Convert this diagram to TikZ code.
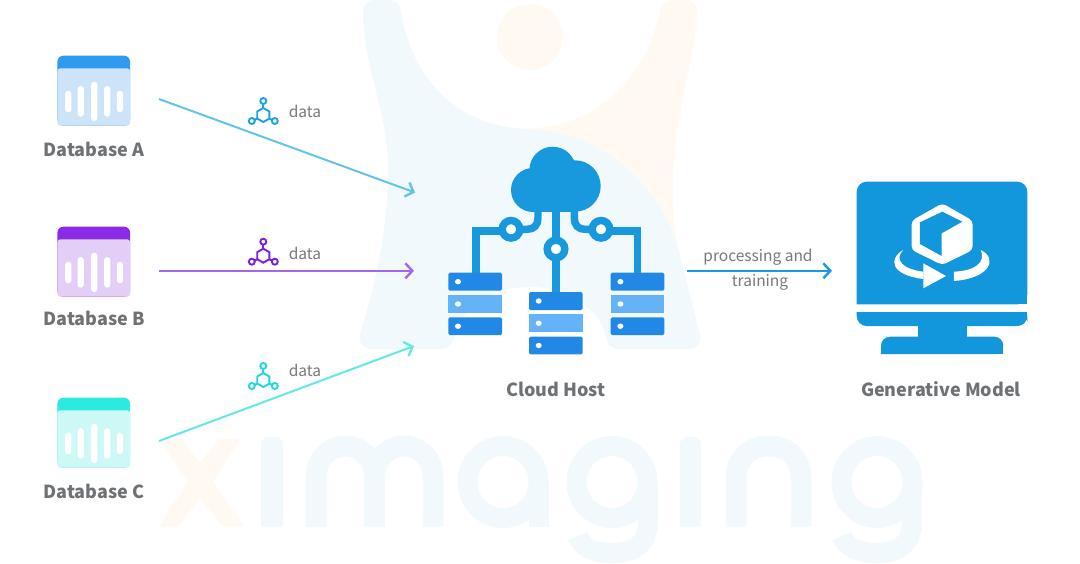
\documentclass[tikz,border=0pt]{standalone}
\usepackage{fontspec}
\setmainfont{Noto Sans CJK SC}
\usetikzlibrary{arrows.meta}
\definecolor{wmblue}{HTML}{F2F9FD}
\definecolor{wmorange}{HTML}{FFF9F2}
\definecolor{labelgray}{HTML}{6F7275}
\definecolor{datagray}{HTML}{77797B}
\definecolor{cloudblue}{HTML}{1899DE}
\definecolor{srvdark}{HTML}{2288E6}
\definecolor{srvlight}{HTML}{64B2F7}
\definecolor{monblue}{HTML}{1296DC}
\definecolor{headA}{HTML}{2F9AEE}
\definecolor{bodyA}{HTML}{CDE4F8}
\definecolor{headB}{HTML}{8A2BE8}
\definecolor{bodyB}{HTML}{E3CEF7}
\definecolor{headC}{HTML}{2CEADF}
\definecolor{bodyC}{HTML}{CDF8F5}
\definecolor{linkA}{HTML}{63C4EA}
\definecolor{linkB}{HTML}{A566E8}
\definecolor{linkC}{HTML}{63E8E6}
\definecolor{glyphA}{HTML}{1AA3E0}
\definecolor{glyphB}{HTML}{7B1FE0}
\definecolor{glyphC}{HTML}{1FD6DC}
\definecolor{linkD}{HTML}{1A9AE0}
\tikzset{
  title/.style={font=\fontsize{18}{20}\selectfont\bfseries, text=labelgray, inner sep=0pt},
  note/.style={font=\fontsize{15.5}{18}\selectfont, text=datagray, inner sep=0pt},
  link/.style={line width=2pt, -{Straight Barb[length=7pt,width=15pt,line width=2.4pt]}},
  wire/.style={draw=cloudblue, line width=7.4pt},
  hub/.style={draw=cloudblue, fill=white, line width=7.4pt},
  wmstroke/.style={draw=wmblue, line width=21pt},
}
% Database icon: header band, pale body and five white level bars
\newcommand{\dbicon}[4]{%
  \begin{scope}[shift={(#1,#2)}]
    \fill[#3, rounded corners=6pt] (0,0) rectangle (72.7,70);
    \fill[#4, rounded corners=3pt] (0,12.6) -- (72.7,12.6) -- (72.7,70) -- (0,70) -- cycle;
    \fill[white, rounded corners=3pt] (7.8,35) rectangle (14,56.6);
    \fill[white, rounded corners=3pt] (20.2,30.3) rectangle (26.4,61);
    \fill[white, rounded corners=3pt] (33.7,26) rectangle (39.9,65.3);
    \fill[white, rounded corners=3pt] (46.7,30.3) rectangle (52.9,61);
    \fill[white, rounded corners=3pt] (59.4,35) rectangle (65.6,56.6);
  \end{scope}}
% Molecule-like data glyph: hexagon with three ringed spokes
\newcommand{\dataglyph}[3]{%
  \begin{scope}[shift={(#1,#2)}, line width=1.9pt]
    \draw[#3] (0,-7) -- (6.1,-3.5) -- (6.1,3.5) -- (0,7) -- (-6.1,3.5) -- (-6.1,-3.5) -- cycle;
    \draw[#3] (0,-7) -- (0,-10.5);
    \draw[#3] (6.1,3.5) -- (8.7,5);
    \draw[#3] (-6.1,3.5) -- (-8.7,5);
    \draw[#3] (0,-14) circle[radius=3];
    \draw[#3] (11.5,6) circle[radius=3];
    \draw[#3] (-11.5,6) circle[radius=3];
  \end{scope}}
% Three-slab server rack
\newcommand{\rack}[2]{%
  \begin{scope}[shift={(#1,#2)}]
    \fill[srvdark, rounded corners=1.5pt] (0,0) rectangle (53.7,18);
    \fill[srvlight] (0,22.3) rectangle (53.7,40.3);
    \fill[srvdark, rounded corners=1.5pt] (0,44.6) rectangle (53.7,62.3);
    \foreach \yy in {9,31.3,53.5} \fill[white] (9.7,\yy) ellipse[x radius=3, y radius=2.7];
  \end{scope}}
\begin{document}
\begin{tikzpicture}[x=1pt,y=-1pt]
\useasboundingbox (0,0) rectangle (1080,563);
\fill[white] (0,0) rectangle (1080,563);

% Faint figure behind the diagram
\fill[wmorange] (530,37) circle[radius=33];
\fill[wmorange] (530,128) .. controls (600,128) and (648,70) .. (660,12)
  .. controls (661,4) and (665,0) .. (672,0) -- (685,0)
  .. controls (693,0) and (697,5) .. (697,14)
  .. controls (695,50) and (685,80) .. (680,115)
  .. controls (671,160) and (670,210) .. (680,260) -- (640,300) -- (530,200) -- cycle;
\fill[wmblue] (363,14) .. controls (363,5) and (367,0) .. (375,0) -- (388,0)
  .. controls (395,0) and (400,4) .. (401,10)
  .. controls (410,75) and (455,128) .. (530,129)
  .. controls (605,132) and (665,190) .. (680,255)
  -- (700,335) .. controls (702,343) and (697,349) .. (690,349)
  -- (619,349) .. controls (611,349) and (607,344) .. (606,337)
  .. controls (600,310) and (570,287) .. (530,287)
  .. controls (490,287) and (460,310) .. (454,337)
  .. controls (452,345) and (448,349) .. (442,349)
  -- (371,349) .. controls (363,349) and (358,342) .. (360,335)
  .. controls (378,275) and (388,225) .. (388,170)
  .. controls (388,110) and (365,75) .. (363,14) -- cycle;

% Faint lettering along the bottom
\fill[wmorange, rounded corners=1.5pt] (159,439) -- (181,439) -- (200,463) -- (219,439) -- (240,439)
  -- (213,482) -- (245,527) -- (223,527) -- (200,498) -- (178,527) -- (158,527) -- (188,482) -- cycle;
\fill[wmblue, rounded corners=7pt] (261,437) rectangle (283,460);
\fill[wmblue, rounded corners=1.5pt] (261,448) rectangle (283,527);
\draw[wmstroke] (316,527) -- (316,478) .. controls (316,458) and (330,446) .. (345,446)
  .. controls (362,446) and (374.5,460) .. (374.5,478) -- (374.5,527);
\draw[wmstroke] (374.5,478) .. controls (374.5,460) and (387,446) .. (404,446)
  .. controls (420,446) and (433,458) .. (433,478) -- (433,527);
\draw[wmblue, line width=20pt] (503,482) ellipse[x radius=35.5, y radius=36];
\fill[wmblue] (529,482) rectangle (549,527);
\draw[wmblue, line width=20pt] (612,482) ellipse[x radius=35.5, y radius=36];
\draw[wmblue, line width=20pt] (648,482) -- (648,520) .. controls (648,545) and (634,553) .. (612,553)
  .. controls (592,553) and (582,547) .. (578,536);
\fill[wmblue, rounded corners=7pt] (680,437) rectangle (701,460);
\fill[wmblue, rounded corners=1.5pt] (680,448) rectangle (701,527);
\draw[wmstroke] (736,527) -- (736,478) .. controls (736,458) and (751,446) .. (768.6,446)
  .. controls (787,446) and (801,458) .. (801,478) -- (801,527);
\draw[wmblue, line width=20pt] (877,482) ellipse[x radius=35.5, y radius=36];
\draw[wmblue, line width=20pt] (912,482) -- (912,520) .. controls (912,545) and (898,553) .. (877,553)
  .. controls (857,553) and (846,547) .. (842,536);

% Databases
\dbicon{57.4}{55.7}{headA}{bodyA}
\dbicon{57.4}{226.7}{headB}{bodyB}
\dbicon{57.4}{397.7}{headC}{bodyC}
\node[title] (labelA) at (94,149) {Database A};
\node[title] (labelB) at (94,318) {Database B};
\node[title] (labelC) at (94,491) {Database C};

% Data flows into the cloud host
\coordinate (outA) at (159,99);
\coordinate (outB) at (159,270.8);
\coordinate (outC) at (159,441);
\coordinate (inA) at (415,192.5);
\coordinate (inB) at (414,270.8);
\coordinate (inC) at (414,346);
\draw[link, linkA] (outA) -- (inA);
\draw[link, linkB] (outB) -- (inB);
\draw[link, linkC] (outC) -- (inC);
\dataglyph{263.3}{115}{glyphA}
\dataglyph{263.3}{255.7}{glyphB}
\dataglyph{263.3}{380}{glyphC}
\node[note] (dataA) at (305,111.5) {data};
\node[note] (dataB) at (305,253) {data};
\node[note] (dataC) at (305,370) {data};

% Wires between the cloud and the racks
\draw[wire] (538,205) -- (538,218) .. controls (538,225) and (534,229.3) .. (527,229.3) -- (511,229.3);
\draw[wire] (574.3,205) -- (574.3,218) .. controls (574.3,225) and (578,229.3) .. (585,229.3) -- (601,229.3);
\draw[wire] (511,231) -- (476,231) -- (476,274);
\draw[wire] (601,231) -- (637.3,231) -- (637.3,274);
\draw[wire] (556,205) -- (556,293);

% Cloud
\fill[cloudblue] (533,190) circle[radius=22];
\fill[cloudblue] (552.7,170) circle[radius=23.3];
\fill[cloudblue] (575,186) circle[radius=25.7];
\fill[cloudblue] (533,190) rectangle (575,211.7);
\fill[cloudblue] (540,175) rectangle (575,200);

\draw[hub] (511,229.3) circle[radius=8.8];
\draw[hub] (601,229.3) circle[radius=8.8];
\draw[hub] (556,249) circle[radius=8.8];

\rack{448.3}{272.7}
\rack{529}{292}
\rack{610.7}{272.7}
\node[title] (cloudhost) at (556,389) {Cloud Host};

% Processing link
\coordinate (outHost) at (687,270.8);
\coordinate (inModel) at (832,270.8);
\draw[link, linkD] (outHost) -- (inModel);
\node[note, font=\fontsize{15.5}{18}\selectfont] (procA) at (758,257) {processing and};
\node[note, font=\fontsize{15.5}{18}\selectfont] (procB) at (760,282) {training};

% Monitor with rotating cube
\fill[monblue, rounded corners=10pt] (856.7,304.3) -- (856.7,181.7) -- (1027.3,181.7) -- (1027.3,304.3) [sharp corners] -- cycle;
\fill[monblue] (856.7,304.3) rectangle (1027.3,295);
\fill[monblue, rounded corners=10pt] (856.7,312) -- (856.7,326) -- (1027.3,326) -- (1027.3,312) [sharp corners] -- cycle;
\fill[monblue] (856.7,312) rectangle (1027.3,318);
\fill[monblue] (917.7,324) rectangle (966.7,338);
\fill[monblue, rounded corners=9pt] (881,354) -- (881,336.7) -- (1003.3,336.7) -- (1003.3,354) [sharp corners] -- cycle;
\fill[monblue] (881,348) rectangle (1003.3,354);
\begin{scope}[shift={(840,170)}, x=0.3333pt, y=-0.3333pt]
  \fill[white, rounded corners=4pt] (307,100) -- (398,152) -- (398,240) -- (307,285) -- (215,240) -- (215,152) -- cycle;
  \fill[monblue] (307,125) -- (367,155) -- (305,190) -- (305,258) -- (240,222) -- (240,157) -- cycle;
  \fill[white] (190,240) .. controls (145,265) and (150,315) .. (250,327) -- (250,305)
    .. controls (190,298) and (160,270) .. (190,240) -- cycle;
  \fill[white] (250,280) -- (318,318) -- (250,355) -- cycle;
  \fill[white] (342,305) .. controls (400,303) and (440,280) .. (422,240)
    .. controls (475,265) and (450,325) .. (342,333) -- cycle;
\end{scope}
\node[title] (modelname) at (941,389) {Generative Model};
\end{tikzpicture}
\end{document}
